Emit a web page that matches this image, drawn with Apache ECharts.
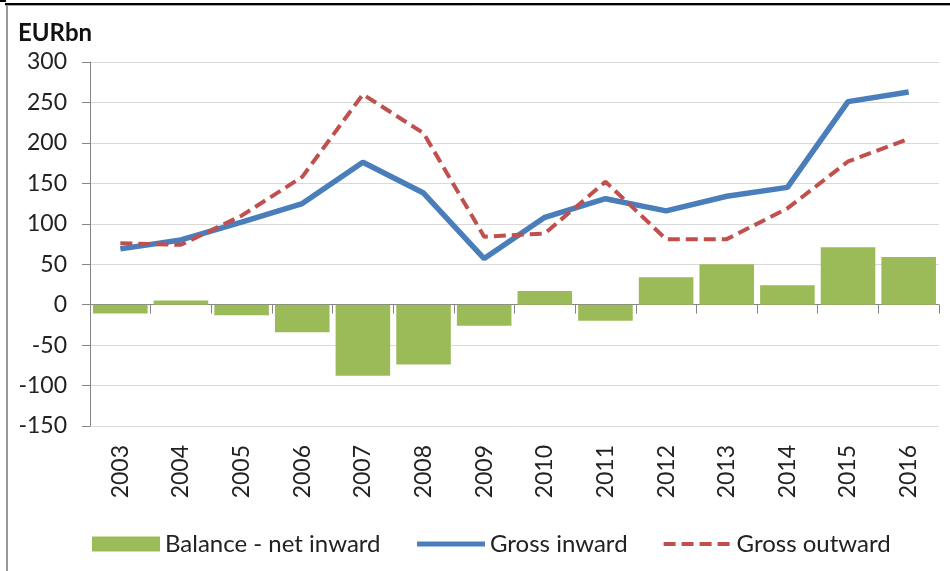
<!DOCTYPE html>
<html>
<head>
<meta charset="utf-8">
<script src="https://cdn.jsdelivr.net/npm/echarts@6/dist/echarts.min.js"></script>
<style>
    html, body { margin: 0; padding: 0; background: #fff; }
    #chart { width: 950px; height: 571px; }
</style>
</head>
<body>
<div id="chart"></div>
<script>
var years = ['2003', '2004', '2005', '2006', '2007', '2008', '2009', '2010', '2011', '2012', '2013', '2014', '2015', '2016'];
var balanceNetInward = [-11, 5, -13, -34, -88, -74, -26, 17, -20, 34, 50, 24, 71, 59];
var grossInward = [69, 80, 102, 125, 176, 138, 57, 108, 131, 116, 134, 145, 251, 263];
var grossOutward = [76, 74, 110, 158, 260, 212, 84, 88, 152, 81, 81, 119, 177, 205];
var yTicks = { min: -150, max: 300, step: 50 };

var font = 'Lato, "Liberation Sans", sans-serif';
var green = '#9bbb59', blue = '#4a7ebb', red = '#c0504d';
var myChart = echarts.init(document.getElementById('chart'));

var option = {
    animation: false,
    backgroundColor: '#fff',
    textStyle: { fontFamily: font },
    graphic: [
        { type: 'line', shape: { x1: 0, y1: 1, x2: 6, y2: 1 }, style: { stroke: '#000', lineWidth: 2 } },
        { type: 'line', shape: { x1: 5, y1: 4, x2: 950, y2: 4 }, style: { stroke: '#000', lineWidth: 2 } },
        { type: 'line', shape: { x1: 5, y1: 5.5, x2: 950, y2: 5.5 }, style: { stroke: '#aaa', lineWidth: 1 } },
        { type: 'line', shape: { x1: 7, y1: 5, x2: 7, y2: 571 }, style: { stroke: '#999', lineWidth: 2 } },
        {
            type: 'text', left: 18, top: 21,
            style: { text: 'EURbn', font: 'bold 24px ' + font, fill: '#111' }
        }
    ],
    legend: {
        left: 87,
        top: 527,
        itemWidth: 68,
        itemHeight: 15,
        itemGap: 34,
        textStyle: { fontSize: 24, color: '#222', fontFamily: font },
        data: [
            { name: 'Balance - net inward', icon: 'rect' },
            { name: 'Gross inward', itemStyle: { opacity: 0 }, lineStyle: { width: 5, color: blue } },
            { name: 'Gross outward', itemStyle: { opacity: 0 }, lineStyle: { width: 4, color: red, type: [12, 6] } }
        ]
    },
    grid: { left: 90, right: 11, top: 62, bottom: 145 },
    xAxis: [{
        type: 'category',
        data: years,
        position: 'bottom',
        axisLine: { onZero: true, lineStyle: { color: '#868686', width: 1 } },
        axisTick: { show: true, length: 9, lineStyle: { color: '#868686' } },
        axisLabel: { show: false },
        splitLine: { show: false }
    }, {
        type: 'category',
        data: years,
        position: 'bottom',
        axisLine: { show: false, onZero: false },
        axisTick: { show: false },
        axisLabel: { rotate: 90, margin: 19, fontSize: 23, color: '#222', fontFamily: font },
        splitLine: { show: false }
    }],
    yAxis: {
        type: 'value',
        min: yTicks.min,
        max: yTicks.max,
        interval: yTicks.step,
        axisLine: { show: true, lineStyle: { color: '#868686' } },
        axisTick: { show: true, length: 8, lineStyle: { color: '#868686' } },
        axisLabel: { margin: 23, fontSize: 23, color: '#222', fontFamily: font },
        splitLine: { lineStyle: { color: '#d9d9d9', width: 1 } }
    },
    series: [{
        name: 'Balance - net inward',
        type: 'bar',
        xAxisIndex: 0,
        barCategoryGap: '10%',
        itemStyle: { color: green },
        data: balanceNetInward
    }, {
        name: 'Gross inward',
        type: 'line',
        xAxisIndex: 0,
        symbol: 'none',
        lineStyle: { color: blue, width: 5.5 },
        itemStyle: { color: blue },
        data: grossInward
    }, {
        name: 'Gross outward',
        type: 'line',
        xAxisIndex: 0,
        symbol: 'none',
        lineStyle: { color: red, width: 4, type: [12, 6] },
        itemStyle: { color: red },
        data: grossOutward
    }]
};
myChart.setOption(option);
</script>
</body>
</html>
